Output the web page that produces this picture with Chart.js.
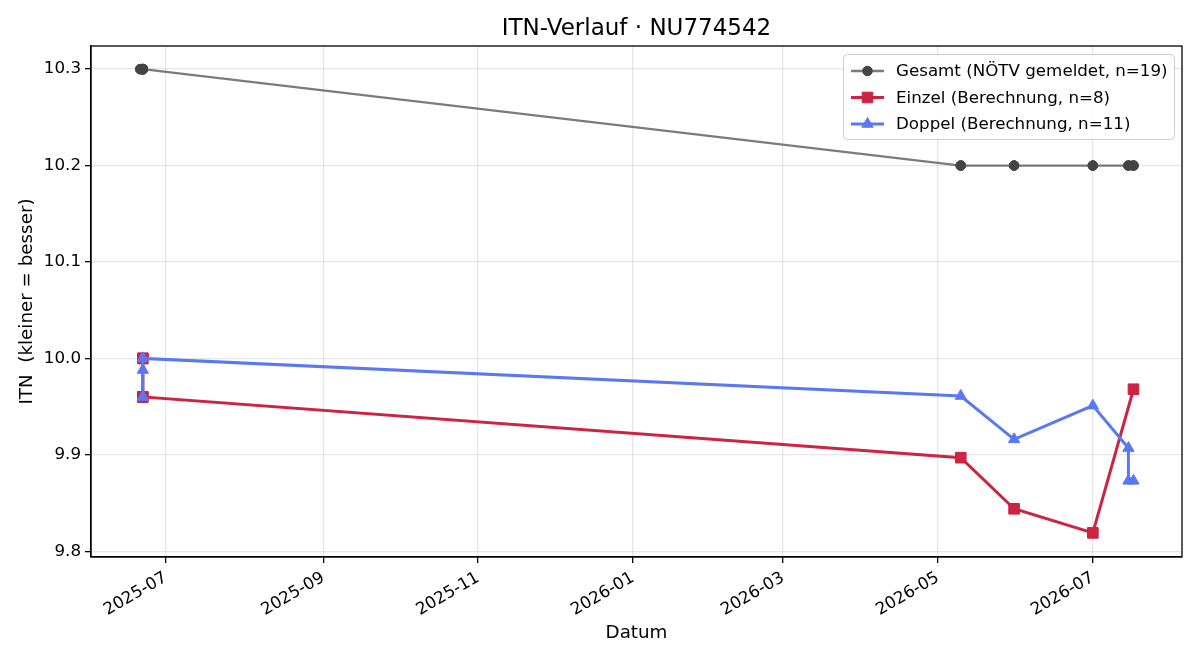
<!DOCTYPE html>
<html>
<head>
<meta charset="utf-8">
<script src="https://cdn.jsdelivr.net/npm/chart.js@4.4.1/dist/chart.umd.min.js"></script>
<style>
  html, body { margin: 0; padding: 0; background: #fff; }
</style>
</head>
<body>
<canvas id="itnChart" width="1200" height="660"></canvas>
<script>
// --- data ---
const gesamtDates  = ['2025-06-21','2025-06-21','2025-06-22','2025-06-22','2025-06-22','2025-06-22','2025-06-22','2025-06-22','2025-06-22',
                      '2026-05-10','2026-05-10','2026-05-31','2026-05-31','2026-07-01','2026-07-01','2026-07-15','2026-07-15','2026-07-17','2026-07-17'];
const gesamtValues = [10.3,10.3,10.3,10.3,10.3,10.3,10.3,10.3,10.3,
                      10.2,10.2,10.2,10.2,10.2,10.2,10.2,10.2,10.2,10.2];

const einzelDates  = ['2025-06-22','2025-06-22','2025-06-22','2025-06-22','2026-05-10','2026-05-31','2026-07-01','2026-07-17'];
const einzelValues = [10.0, 10.0, 9.96, 9.96, 9.897, 9.844, 9.819, 9.968];

const doppelDates  = ['2025-06-22','2025-06-22','2025-06-22','2025-06-22','2025-06-22','2026-05-10','2026-05-31','2026-07-01','2026-07-15','2026-07-15','2026-07-17'];
const doppelValues = [9.96, 9.96, 9.988, 10.0, 10.0, 9.961, 9.916, 9.951, 9.907, 9.873, 9.873];

const xTickLabels = ['2025-07','2025-09','2025-11','2026-01','2026-03','2026-05','2026-07'];
const yTickValues = [9.8, 9.9, 10.0, 10.1, 10.2, 10.3];

// dates -> day numbers (no date adapter available)
function toDay(s) {
    const p = s.split('-');
    return Date.UTC(+p[0], +p[1] - 1, p[2] ? +p[2] : 1) / 86400000;
}
function pts(dates, vals) {
    return dates.map((d, i) => ({ x: toDay(d), y: vals[i] }));
}
const xTickValues = xTickLabels.map(toDay);
const day0 = toDay('2025-07-01');

const FONT = "'DejaVu Sans', sans-serif";

// top/right spines + title + legend like matplotlib
const decorPlugin = {
    id: 'decor',
    afterDraw(chart) {
        const ctx = chart.ctx;
        const a = chart.chartArea;
        ctx.save();
        ctx.strokeStyle = '#000';
        ctx.lineWidth = 1.3;
        ctx.strokeRect(a.left, a.top, a.right - a.left, a.bottom - a.top);

        ctx.fillStyle = '#000';
        ctx.font = '23px ' + FONT;
        ctx.textAlign = 'center';
        ctx.textBaseline = 'middle';
        ctx.fillText('ITN-Verlauf · NU774542', (a.left + a.right) / 2, 29);

        // legend box
        const bx = 843, by = 54, bw = 331, bh = 85;
        ctx.fillStyle = 'rgba(255,255,255,0.8)';
        ctx.strokeStyle = '#cccccc';
        ctx.lineWidth = 1;
        ctx.beginPath();
        ctx.roundRect(bx + 0.5, by + 0.5, bw, bh, 4);
        ctx.fill();
        ctx.stroke();

        ctx.font = '16.7px ' + FONT;
        ctx.textAlign = 'left';
        chart.data.datasets.forEach((ds, i) => {
            const y = 71 + i * 26.5;
            ctx.strokeStyle = ds.borderColor;
            ctx.lineWidth = ds.borderWidth;
            ctx.beginPath();
            ctx.moveTo(851, y);
            ctx.lineTo(884, y);
            ctx.stroke();
            ctx.fillStyle = ds.pointBackgroundColor;
            ctx.strokeStyle = ds.pointBorderColor;
            ctx.lineWidth = 1;
            Chart.helpers.drawPoint(ctx, { pointStyle: ds.pointStyle, radius: ds.pointRadius, borderWidth: 1 }, 867.5, y);
            ctx.fillStyle = '#000';
            ctx.fillText(ds.label, 896, y + 1);
        });
        ctx.restore();
    }
};

new Chart(document.getElementById('itnChart'), {
    type: 'line',
    data: {
        datasets: [{
            label: 'Gesamt (NÖTV gemeldet, n=19)',
            data: pts(gesamtDates, gesamtValues),
            borderColor: 'rgba(90,90,90,0.8)',
            borderWidth: 2.3,
            pointStyle: 'circle',
            pointRadius: 4.8,
            pointBackgroundColor: '#444444',
            pointBorderColor: '#444444',
            pointBorderWidth: 1,
            order: 3
        }, {
            label: 'Einzel (Berechnung, n=8)',
            data: pts(einzelDates, einzelValues),
            borderColor: '#cc2442',
            borderWidth: 3,
            pointStyle: 'rect',
            pointRadius: 7.5,
            pointBackgroundColor: '#cc2442',
            pointBorderColor: '#cc2442',
            pointBorderWidth: 1,
            order: 2
        }, {
            label: 'Doppel (Berechnung, n=11)',
            data: pts(doppelDates, doppelValues),
            borderColor: '#5a78f2',
            borderWidth: 3,
            pointStyle: 'triangle',
            pointRadius: 6.5,
            pointBackgroundColor: '#5a78f2',
            pointBorderColor: '#5a78f2',
            pointBorderWidth: 1,
            order: 1
        }]
    },
    options: {
        responsive: false,
        animation: false,
        layout: { padding: { left: 0, right: 18, top: 46, bottom: 0 } },
        plugins: {
            legend: { display: false },
            tooltip: { enabled: false }
        },
        elements: { line: { tension: 0 } },
        scales: {
            x: {
                type: 'linear',
                min: day0 - 29.4,
                max: day0 + 400.1,
                afterFit(s) { s.height = 103; },
                afterBuildTicks(s) { s.ticks = xTickValues.map(v => ({ value: v })); },
                border: { color: '#000', width: 1.3 },
                grid: { color: 'rgba(176,176,176,0.3)', lineWidth: 1.3, tickColor: '#000', tickLength: 6, tickWidth: 1.3 },
                ticks: {
                    autoSkip: false,
                    minRotation: 30,
                    maxRotation: 30,
                    padding: 5,
                    color: '#000',
                    font: { family: FONT, size: 16.7 },
                    callback(v) {
                        const i = xTickValues.indexOf(v);
                        return i >= 0 ? xTickLabels[i] : '';
                    }
                },
                title: {
                    display: true,
                    text: 'Datum',
                    color: '#000',
                    font: { family: FONT, size: 18.3 },
                    padding: { top: 0, bottom: 16 }
                }
            },
            y: {
                min: 9.794,
                max: 10.324,
                afterFit(s) { s.width = 91; },
                afterBuildTicks(s) { s.ticks = yTickValues.map(v => ({ value: v })); },
                border: { color: '#000', width: 1.3 },
                grid: { color: 'rgba(176,176,176,0.3)', lineWidth: 1.3, tickColor: '#000', tickLength: 6, tickWidth: 1.3 },
                ticks: {
                    padding: 4,
                    color: '#000',
                    font: { family: FONT, size: 16.7 },
                    callback(v) { return v.toFixed(1); }
                },
                title: {
                    display: true,
                    text: 'ITN  (kleiner = besser)',
                    color: '#000',
                    font: { family: FONT, size: 18.3 },
                    padding: { top: 16, bottom: 16 }
                }
            }
        }
    },
    plugins: [decorPlugin]
});
</script>
</body>
</html>
